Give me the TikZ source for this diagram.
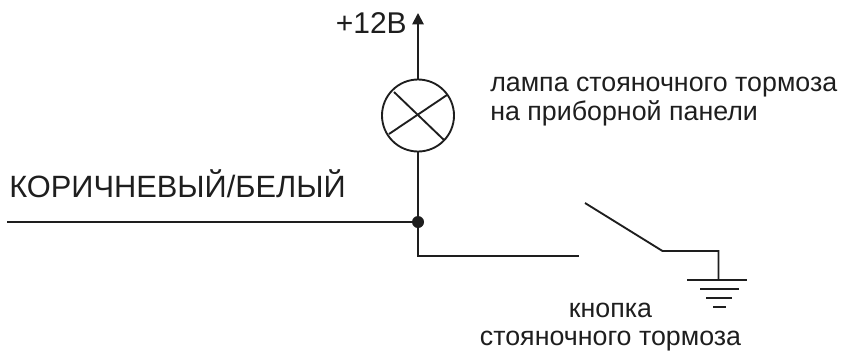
\documentclass[tikz,border=0pt]{standalone}
\usepackage{fontspec}
\setmainfont{Liberation Sans}
\usetikzlibrary{arrows.meta}
\definecolor{ink}{HTML}{1E1E1E}
\tikzset{x=0.75pt,y=-0.75pt,
 wire/.style={draw=ink,line width=1.4pt},
 lbl/.style={text=ink,inner sep=0pt,font=\fontsize{20.1pt}{24pt}\selectfont},
 biglbl/.style={text=ink,inner sep=0pt,font=\fontsize{23.1pt}{28pt}\selectfont},
 dotnode/.style={circle,fill=ink,inner sep=0pt,minimum size=9pt}}
\begin{document}
\begin{tikzpicture}
\useasboundingbox (0,0) rectangle (845,351);
\node[circle,wire,minimum size=54pt,inner sep=0pt] (lamp) at (418,115.5) {};
\coordinate (top) at (418,13);
\node[dotnode] (junc) at (418,222) {};
\coordinate (left) at (7,222);
\coordinate (corner) at (418,256);
\coordinate (contact) at (579,256);
\coordinate (swa) at (585,203);
\coordinate (swb) at (662.5,251);
\coordinate (gnd) at (718.5,251);
\coordinate (gndb) at (718.5,280);
\coordinate (crossa) at (394,92);
\coordinate (crossb) at (444,140);
\coordinate (crossc) at (389,134);
\coordinate (crossd) at (447,95);
\coordinate (ga) at (687,280);
\coordinate (gb) at (747,280);
\coordinate (gc) at (700,289);
\coordinate (gd) at (739,289);
\coordinate (ge) at (706,298);
\coordinate (gf) at (732,298);
\coordinate (gg) at (713,307);
\coordinate (gh) at (726,307);
\draw[wire,-{Triangle[length=8.5pt,width=8.5pt]}] (lamp.north) -- (top);
\draw[wire] (lamp.south) -- (junc);
\draw[wire] (left) -- (junc);
\draw[wire] (junc) -- (corner) -- (contact);
\draw[wire] (swa) -- (swb) -- (gnd) -- (gndb);
\draw[wire] (crossa) -- (crossb);
\draw[wire] (crossc) -- (crossd);
\draw[wire] (ga) -- (gb);
\draw[wire] (gc) -- (gd);
\draw[wire] (ge) -- (gf);
\draw[wire] (gg) -- (gh);
\node[biglbl,anchor=base east] (volt) at (407,33) {\fontsize{22.5pt}{27pt}\selectfont +12В};
\node[lbl,anchor=base west] (lampa) at (490,91) {лампа стояночного тормоза};
\node[lbl,anchor=base west] (panel) at (490,120) {на приборной панели};
\node[biglbl,anchor=base west] (brown) at (9,197) {КОРИЧНЕВЫЙ/БЕЛЫЙ};
\node[lbl,anchor=base] (knopka) at (610.5,317) {кнопка};
\node[lbl,anchor=base] (brake) at (610.5,345) {стояночного тормоза};
\end{tikzpicture}
\end{document}
